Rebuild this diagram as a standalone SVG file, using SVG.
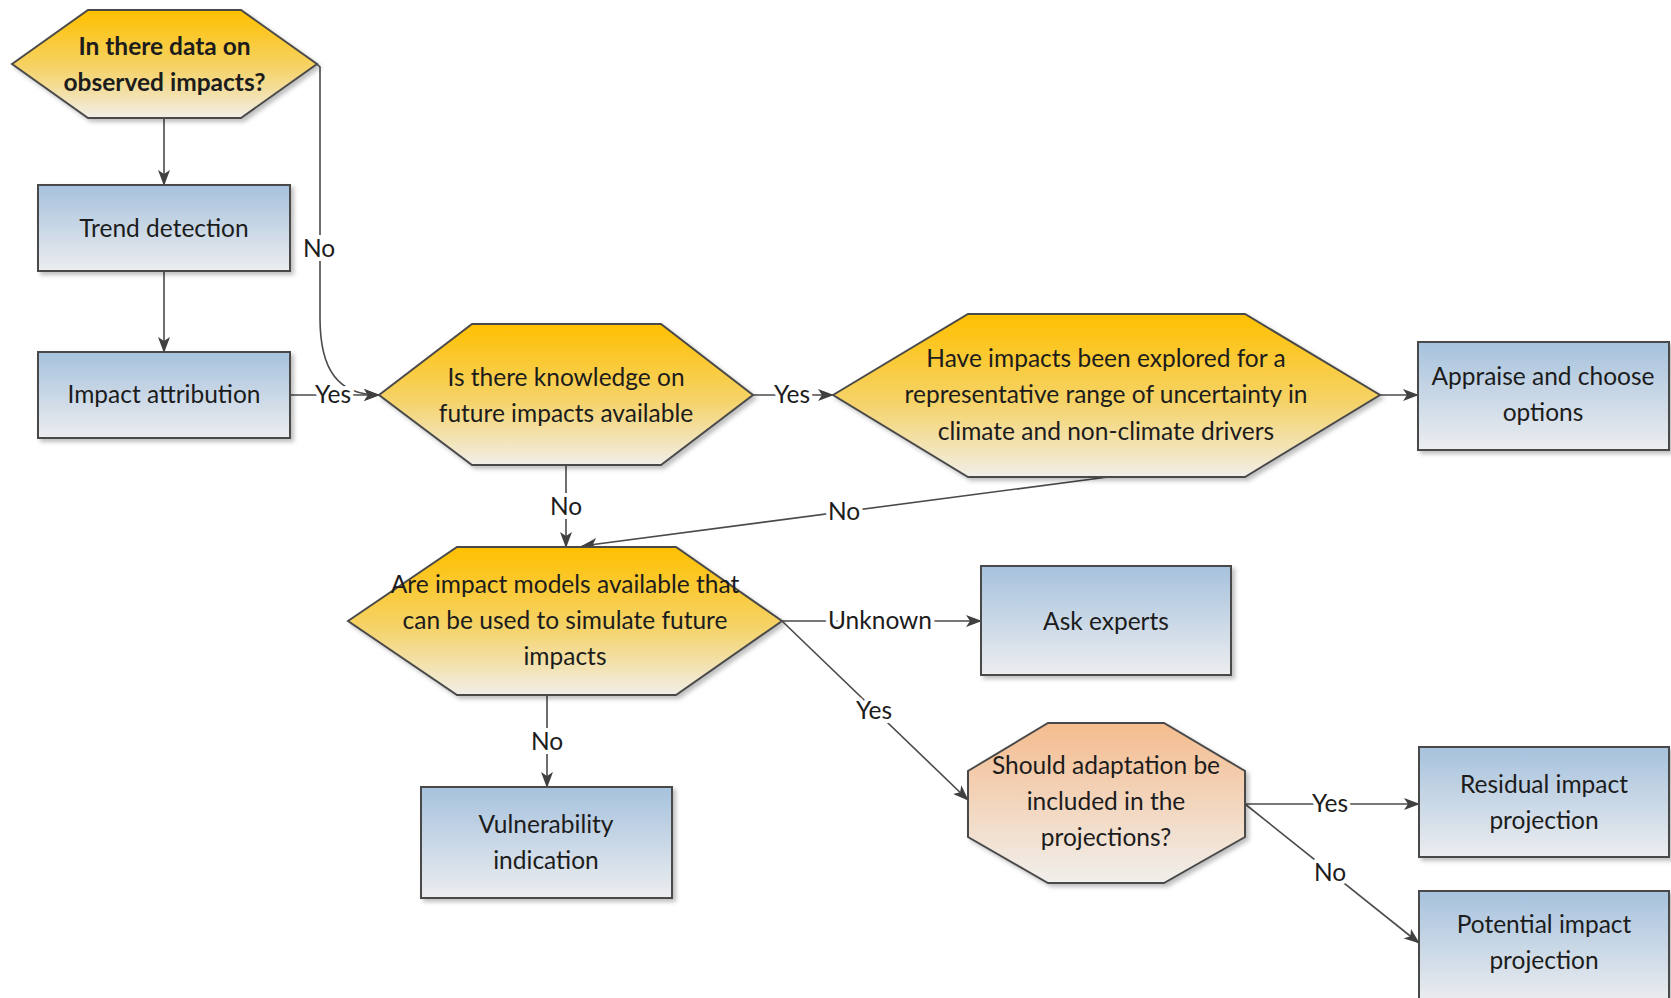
<svg xmlns="http://www.w3.org/2000/svg" width="1671" height="998" viewBox="0 0 1671 998">
<defs>
<linearGradient id="gY" x1="0" y1="0" x2="0" y2="1"><stop offset="0" stop-color="#FFC000"/><stop offset="0.55" stop-color="#F5D36A"/><stop offset="1" stop-color="#F1EEE8"/></linearGradient>
<linearGradient id="gB" x1="0" y1="0" x2="0" y2="1"><stop offset="0" stop-color="#A6C2DD"/><stop offset="1" stop-color="#ECEDEF"/></linearGradient>
<linearGradient id="gO" x1="0" y1="0" x2="0" y2="1"><stop offset="0" stop-color="#F4BC8E"/><stop offset="1" stop-color="#F1EFEC"/></linearGradient>
<filter id="sh" x="-10%" y="-10%" width="130%" height="130%"><feDropShadow dx="3" dy="3" stdDeviation="2" flood-color="#000" flood-opacity="0.25"/></filter>
<marker id="ar" markerWidth="16" markerHeight="12" refX="15" refY="6" orient="auto" markerUnits="userSpaceOnUse"><path d="M0,0 L16,6 L0,12 L4,6 Z" fill="#404040"/></marker>
</defs>
<style>
.hex{fill:url(#gY);stroke:#4a4a4a;stroke-width:2;filter:url(#sh)}
.box{fill:url(#gB);stroke:#4a4a4a;stroke-width:2;filter:url(#sh)}
.oct{fill:url(#gO);stroke:#4a4a4a;stroke-width:2;filter:url(#sh)}
.t{font-family:Lato,"Liberation Sans",sans-serif;font-size:24.5px;fill:#1c1c1c;text-anchor:middle}
.b{font-weight:bold}
.c{fill:none;stroke:#4a4a4a;stroke-width:1.6}
.l{font-family:Lato,"Liberation Sans",sans-serif;font-size:24.5px;fill:#1c1c1c;text-anchor:middle;stroke:#fff;stroke-width:8;paint-order:stroke;stroke-linejoin:round}
</style>
<g id="connectors">
<path class="c" d="M164,118 L164,185" marker-end="url(#ar)"/>
<path class="c" d="M164,271 L164,352" marker-end="url(#ar)"/>
<path class="c" d="M317,64 L320,67 L320,318 C320,370 338,395 379,395" marker-end="url(#ar)"/>
<path class="c" d="M290,395 L379,395" marker-end="url(#ar)"/>
<path class="c" d="M753,395 L833,395" marker-end="url(#ar)"/>
<path class="c" d="M1380,395 L1418,395" marker-end="url(#ar)"/>
<path class="c" d="M566,465 L566,547" marker-end="url(#ar)"/>
<path class="c" d="M1108,477 L582,546" marker-end="url(#ar)"/>
<path class="c" d="M782,621 L981,621" marker-end="url(#ar)"/>
<path class="c" d="M782,621 L968,800" marker-end="url(#ar)"/>
<path class="c" d="M547,695 L547,787" marker-end="url(#ar)"/>
<path class="c" d="M1245,804 L1419,804" marker-end="url(#ar)"/>
<path class="c" d="M1245,804 L1419,943" marker-end="url(#ar)"/>
<text class="l" x="319" y="257">No</text>
<text class="l" x="333" y="403">Yes</text>
<text class="l" x="792" y="403">Yes</text>
<text class="l" x="566" y="515">No</text>
<text class="l" x="844" y="520">No</text>
<text class="l" x="880" y="629">Unknown</text>
<text class="l" x="874" y="719">Yes</text>
<text class="l" x="547" y="750">No</text>
<text class="l" x="1330" y="812">Yes</text>
<text class="l" x="1330" y="881">No</text>
</g>
<g id="n-observed">
<polygon class="hex" points="12,64 88,10 241,10 317,64 241,118 88,118"/>
<text class="t b" x="164.5" y="55">In there data on</text>
<text class="t b" x="164.5" y="91">observed impacts?</text>
</g>
<g id="n-trend">
<rect class="box" x="38" y="185" width="252" height="86"/>
<text class="t" x="164" y="237">Trend detection</text>
</g>
<g id="n-attribution">
<rect class="box" x="38" y="352" width="252" height="86"/>
<text class="t" x="164" y="403">Impact attribution</text>
</g>
<g id="n-knowledge">
<polygon class="hex" points="379,395 472,324 661,324 753,395 661,465 472,465"/>
<text class="t" x="566" y="386">Is there knowledge on</text>
<text class="t" x="566" y="422">future impacts available</text>
</g>
<g id="n-explored">
<polygon class="hex" points="833,395 968,314 1245,314 1380,395 1245,477 968,477"/>
<text class="t" x="1106" y="367">Have impacts been explored for a</text>
<text class="t" x="1106" y="403">representative range of uncertainty in</text>
<text class="t" x="1106" y="440">climate and non-climate drivers</text>
</g>
<g id="n-appraise">
<rect class="box" x="1418" y="342" width="251" height="108"/>
<text class="t" x="1543" y="385">Appraise and choose</text>
<text class="t" x="1543" y="421">options</text>
</g>
<g id="n-models">
<polygon class="hex" points="348,621 457,547 676,547 782,621 676,695 457,695"/>
<text class="t" x="565" y="593">Are impact models available that</text>
<text class="t" x="565" y="629">can be used to simulate future</text>
<text class="t" x="565" y="665">impacts</text>
</g>
<g id="n-experts">
<rect class="box" x="981" y="566" width="250" height="109"/>
<text class="t" x="1106" y="630">Ask experts</text>
</g>
<g id="n-vulnerability">
<rect class="box" x="421" y="787" width="251" height="111"/>
<text class="t" x="546" y="833">Vulnerability</text>
<text class="t" x="546" y="869">indication</text>
</g>
<g id="n-adaptation">
<polygon class="oct" points="1048,723 1164,723 1245,771 1245,837 1164,883 1048,883 968,837 968,771"/>
<text class="t" x="1106" y="774">Should adaptation be</text>
<text class="t" x="1106" y="810">included in the</text>
<text class="t" x="1106" y="846">projections?</text>
</g>
<g id="n-residual">
<rect class="box" x="1419" y="747" width="250" height="110"/>
<text class="t" x="1544" y="793">Residual impact</text>
<text class="t" x="1544" y="829">projection</text>
</g>
<g id="n-potential">
<rect class="box" x="1419" y="891" width="250" height="112"/>
<text class="t" x="1544" y="933">Potential impact</text>
<text class="t" x="1544" y="969">projection</text>
</g>
</svg>
